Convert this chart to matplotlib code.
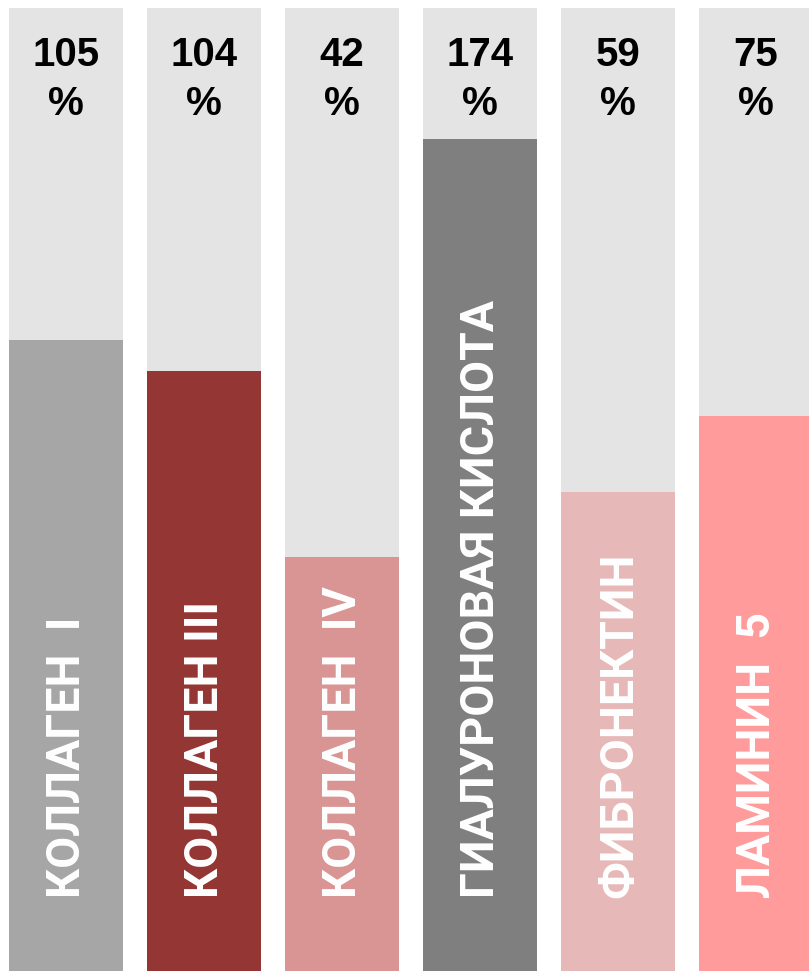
import matplotlib
matplotlib.use("Agg")
import matplotlib.pyplot as plt

categories = ["КОЛЛАГЕН  I", "КОЛЛАГЕН III", "КОЛЛАГЕН  IV",
              "ГИАЛУРОНОВАЯ КИСЛОТА", "ФИБРОНЕКТИН", "ЛАМИНИН  5"]
percent_labels = [105, 104, 42, 174, 59, 75]
fill_levels = [65.5, 62.3, 43.0, 86.4, 49.7, 57.6]
track_max = 100
colors = ["#A6A6A6", "#943634", "#D99594", "#7F7F7F", "#E6B9B8", "#FF9B9B"]
track_color = "#E4E4E4"

fig = plt.figure(figsize=(8.09, 9.71), dpi=100)
ax = fig.add_axes([0, 0, 1, 1])
x = list(range(len(categories)))
w = 0.826
ax.bar(x, [track_max] * len(x), width=w, color=track_color, zorder=1)
ax.bar(x, fill_levels, width=w, color=colors, zorder=2)

ax.set_xlim(-0.478, 5.384)
ax.set_ylim(0, 100.83)
ax.axis("off")

for xi, v, name in zip(x, percent_labels, categories):
    ax.text(xi, 95.1, str(v), ha="center", va="center", fontsize=29,
            fontweight="bold", family=["Liberation Sans", "DejaVu Sans"],
            color="black", zorder=3)
    ax.text(xi, 90.0, "%", ha="center", va="center", fontsize=29,
            fontweight="bold", family=["Liberation Sans", "DejaVu Sans"],
            color="black", zorder=3)
    ax.text(xi + 0.01, 7.6, name, rotation=90, ha="left", va="center",
            rotation_mode="anchor", fontsize=33.5, fontweight="bold",
            family=["Roboto", "DejaVu Sans"], color="white", zorder=3)

fig.savefig("out.png", dpi=100)
